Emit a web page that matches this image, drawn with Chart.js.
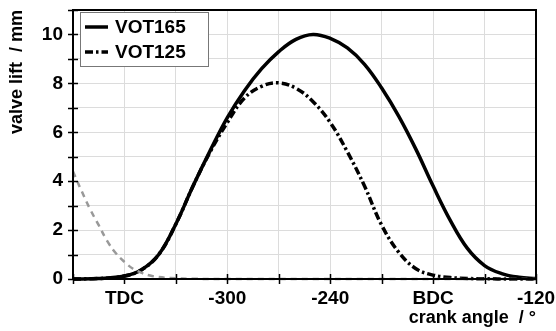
<!DOCTYPE html>
<html><head><meta charset="utf-8">
<script src="https://cdn.jsdelivr.net/npm/chart.js@4/dist/chart.umd.min.js"></script>
<style>html,body{margin:0;padding:0;background:#fff;}</style>
</head><body>
<canvas id="c" width="556" height="331"></canvas>
<script>
// ---- data ----
const angle165 = [-390,-375,-360,-350,-340,-330,-320,-310,-300,-290,-280,-270,-260,-250,-240,-230,-220,-210,-200,-190,-180,-170,-160,-150,-140,-130,-120];
const lift165  = [0,0.02,0.12,0.38,1.0,2.25,3.8,5.25,6.6,7.7,8.6,9.3,9.8,10.0,9.84,9.45,8.78,7.81,6.65,5.3,3.8,2.4,1.25,0.55,0.22,0.07,0.02];

const angle125 = [-390,-375,-360,-350,-340,-330,-320,-310,-300,-290,-280,-270,-260,-250,-240,-230,-220,-210,-200,-190,-180,-170,-160,-150,-135,-120];
const lift125  = [0,0.02,0.12,0.38,1.0,2.25,3.8,5.2,6.4,7.4,7.88,8.02,7.8,7.25,6.4,5.2,3.8,2.2,1.09,0.42,0.16,0.06,0.02,0.01,0,0];

const angleRef = [-390,-385,-380,-375,-370,-365,-360,-355,-350,-345,-340,-333,-320,-300,-120];
const liftRef  = [4.4,3.6,2.85,2.2,1.55,1.05,0.7,0.42,0.25,0.14,0.08,0.04,0.01,0,0];

const seriesNames = ['VOT165','VOT125'];
const xTickValues = [-360,-300,-240,-180,-120];
const xTickLabels = ['TDC','-300','-240','BDC','-120'];
const yTickValues = [0,2,4,6,8,10];
const xTitle = 'crank angle  / °';
const yTitle = 'valve lift  / mm';

const pts = (xs, ys) => xs.map((x, i) => ({x, y: ys[i]}));
const FONT = '"Liberation Sans", Arial, sans-serif';

const framePlugin = {
  id: 'frame',
  afterDatasetsDraw(chart) {
    const ctx = chart.ctx, a = chart.chartArea;
    const xs = chart.scales.x, ys = chart.scales.y;
    ctx.save();
    ctx.strokeStyle = '#000';
    ctx.lineWidth = 2;
    ctx.strokeRect(a.left, a.top, a.right - a.left, a.bottom - a.top);
    ctx.lineWidth = 1.5;
    ctx.beginPath();
    xs.ticks.forEach(t => {
      const p = Math.round(xs.getPixelForValue(t.value)) + 0.5;
      ctx.moveTo(p, a.bottom - 5); ctx.lineTo(p, a.bottom + 5);
    });
    ys.ticks.forEach(t => {
      const p = Math.round(ys.getPixelForValue(t.value)) + 0.5;
      ctx.moveTo(a.left - 5, p); ctx.lineTo(a.left + 5, p);
    });
    ctx.stroke();
    // legend box
    const bx = 80, by = 12, bw = 128, bh = 54;
    ctx.fillStyle = '#fff';
    ctx.fillRect(bx, by, bw, bh);
    ctx.strokeStyle = '#777';
    ctx.lineWidth = 1;
    ctx.strokeRect(bx + 0.5, by + 0.5, bw, bh);
    ctx.font = 'bold 19px ' + FONT;
    ctx.textBaseline = 'middle';
    ctx.fillStyle = '#000';
    seriesNames.forEach((name, i) => {
      const d = chart.data.datasets.find(ds => ds.label === name);
      const y = by + 15 + i * 25;
      ctx.save();
      ctx.strokeStyle = d.borderColor;
      ctx.lineWidth = d.borderWidth;
      ctx.setLineDash(d.borderDash || []);
      ctx.beginPath(); ctx.moveTo(bx + 5, y); ctx.lineTo(bx + 28, y); ctx.stroke();
      ctx.restore();
      ctx.fillText(d.label, bx + 35, y + 1);
    });
    ctx.restore();
  }
};

const common = {pointRadius: 0, tension: 0.4, clip: 4};
new Chart(document.getElementById('c'), {
  type: 'line',
  data: {
    datasets: [
      Object.assign({label: 'ref', data: pts(angleRef, liftRef), borderColor: '#999', borderWidth: 2.5, borderDash: [6,5]}, common),
      Object.assign({label: seriesNames[1], data: pts(angle125, lift125), borderColor: '#000', borderWidth: 3.5, borderDash: [8,3,2.5,3]}, common),
      Object.assign({label: seriesNames[0], data: pts(angle165, lift165), borderColor: '#000', borderWidth: 3.5}, common)
    ]
  },
  options: {
    responsive: false,
    animation: false,
    layout: {padding: {left: 0, top: 10, right: 20, bottom: 0}},
    plugins: {legend: {display: false}, tooltip: {enabled: false}},
    scales: {
      x: {
        type: 'linear', min: -390, max: -120,
        afterFit: s => { s.height = 52; s.paddingRight = 0; s.paddingLeft = 0; },
        border: {display: false},
        grid: {color: '#dcdcdc', lineWidth: 1, drawTicks: false},
        ticks: {
          stepSize: 30, autoSkip: false, maxRotation: 0, padding: 8, color: '#000',
          font: {family: FONT, size: 19, weight: 'bold'},
          callback: v => { const i = xTickValues.indexOf(v); return i >= 0 ? xTickLabels[i] : ''; }
        },
        title: {display: true, text: xTitle, align: 'end', color: '#000', padding: {top: 0, bottom: 2},
          font: {family: FONT, size: 18, weight: 'bold'}}
      },
      y: {
        min: 0, max: 11,
        afterFit: s => { s.width = 73; s.paddingTop = 0; s.paddingBottom = 0; },
        border: {display: false},
        grid: {color: '#dcdcdc', lineWidth: 1, drawTicks: false},
        ticks: {
          stepSize: 1, autoSkip: false, padding: 10, color: '#000',
          font: {family: FONT, size: 19, weight: 'bold'},
          callback: v => yTickValues.includes(v) ? String(v) : ''
        },
        title: {display: true, text: yTitle, align: 'end', color: '#000', padding: {top: 6, bottom: 0},
          font: {family: FONT, size: 18, weight: 'bold'}}
      }
    }
  },
  plugins: [framePlugin]
});
</script>
</body></html>
